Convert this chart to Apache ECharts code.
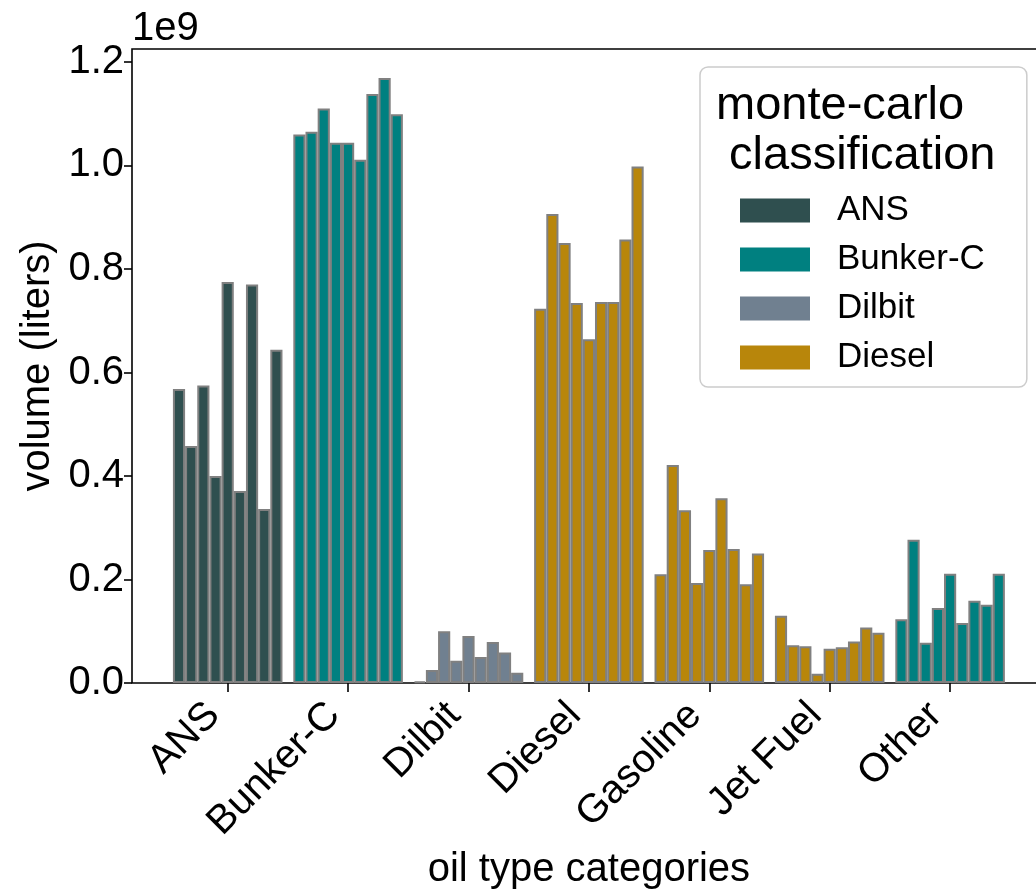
<!DOCTYPE html>
<html>
<head>
<meta charset="utf-8">
<title>Monte-carlo oil volumes</title>
<script src="https://cdn.jsdelivr.net/npm/echarts@6/dist/echarts.min.js"></script>
<style>
  html, body { margin: 0; padding: 0; background: #ffffff; overflow: hidden; }
  #chart { width: 1036px; height: 895px; }
</style>
</head>
<body>
<div id="chart"></div>
<script>
// Oil type categories on the x axis
const categories = ['ANS', 'Bunker-C', 'Dilbit', 'Diesel', 'Gasoline', 'Jet Fuel', 'Other'];

// Monte-carlo classification assigned to each category (drives bar colour)
const classification = ['ANS', 'Bunker-C', 'Dilbit', 'Diesel', 'Diesel', 'Diesel', 'Bunker-C'];

// Legend entries and their colours
const classNames = ['ANS', 'Bunker-C', 'Dilbit', 'Diesel'];
const classColors = ['#2f4f4f', '#008080', '#708090', '#b8860b'];

// Volumes per run (units of 1e9 liters), one array per oil type
const ansVolumes      = [0.568, 0.458, 0.575, 0.400, 0.775, 0.371, 0.770, 0.336, 0.644];
const bunkerCVolumes  = [1.060, 1.065, 1.110, 1.044, 1.044, 1.011, 1.138, 1.169, 1.099];
const dilbitVolumes   = [0.003, 0.025, 0.100, 0.043, 0.091, 0.050, 0.079, 0.059, 0.020];
const dieselVolumes   = [0.723, 0.906, 0.850, 0.734, 0.664, 0.736, 0.736, 0.857, 0.998];
const gasolineVolumes = [0.210, 0.421, 0.334, 0.193, 0.257, 0.357, 0.259, 0.191, 0.250];
const jetFuelVolumes  = [0.130, 0.073, 0.071, 0.018, 0.066, 0.069, 0.080, 0.107, 0.097];
const otherVolumes    = [0.123, 0.277, 0.078, 0.145, 0.211, 0.116, 0.159, 0.151, 0.211];

// Y tick values (units of 1e9 liters)
const yTicks = [0.0, 0.2, 0.4, 0.6, 0.8, 1.0, 1.2];

const SCALE = 1e9;
const Y_MAX = 1.225 * SCALE;
const FONT = 'Liberation Sans, Arial, Helvetica, sans-serif';

const volumesByCategory = [ansVolumes, bunkerCVolumes, dilbitVolumes, dieselVolumes,
                           gasolineVolumes, jetFuelVolumes, otherVolumes];
const runCount = ansVolumes.length;

function colorFor(categoryIndex) {
  return classColors[classNames.indexOf(classification[categoryIndex])];
}

// One bar series per run; bar i of every category group belongs to run i
const runSeries = [];
for (let r = 0; r < runCount; r++) {
  runSeries.push({
    name: 'run ' + (r + 1),
    type: 'bar',
    xAxisIndex: 1,
    yAxisIndex: 1,
    barGap: '0%',
    barCategoryGap: '9%',
    data: volumesByCategory.map(v => v[r] * SCALE),
    itemStyle: {
      color: p => colorFor(p.dataIndex),
      borderColor: '#808080',
      borderWidth: 2
    },
    emphasis: { disabled: true }
  });
}

// Empty series that only carry the legend swatches
const legendSeries = classNames.map((name, i) => ({
  name: name,
  type: 'bar',
  xAxisIndex: 0,
  yAxisIndex: 0,
  data: [],
  itemStyle: { color: classColors[i], borderWidth: 0 }
}));

const tickValues = yTicks.map(t => t * SCALE);

const option = {
  animation: false,
  backgroundColor: '#ffffff',
  textStyle: { fontFamily: FONT },
  title: {
    text: 'monte-carlo\n classification',
    left: 711,
    top: 76,
    textStyle: { fontFamily: FONT, fontSize: 47, fontWeight: 'normal', color: '#000', lineHeight: 50 }
  },
  legend: {
    data: classNames,
    orient: 'vertical',
    left: 700,
    top: 67,
    padding: [126, 42, 12, 40],
    itemWidth: 70,
    itemHeight: 24,
    itemGap: 14,
    icon: 'rect',
    backgroundColor: 'rgba(255,255,255,0.85)',
    borderColor: '#cccccc',
    borderWidth: 1.5,
    borderRadius: 8,
    selectedMode: false,
    textStyle: { fontFamily: FONT, fontSize: 35, color: '#000', padding: [0, 0, 0, 22] }
  },
  grid: [
    // frame: full axes box with the y scale (its right side runs past the canvas edge)
    { left: 132, width: 912, top: 49, bottom: 212, show: true, outerBoundsMode: 'none',
      borderColor: '#000', borderWidth: 1.6, backgroundColor: 'transparent' },
    // bars: category band region
    { left: 167.5, width: 842.8, top: 49, bottom: 212, outerBoundsMode: 'none' }
  ],
  xAxis: [
    { gridIndex: 0, type: 'category', data: [''], show: false },
    {
      gridIndex: 1,
      type: 'category',
      data: categories,
      name: 'oil type categories',
      nameLocation: 'middle',
      nameGap: 155,
      nameTextStyle: { fontFamily: FONT, fontSize: 40, color: '#000' },
      axisLine: { show: false },
      axisTick: { show: true, alignWithLabel: true, length: 9, lineStyle: { color: '#000', width: 1.6 } },
      axisLabel: {
        rotate: 45,
        margin: 12,
        interval: 0,
        fontFamily: FONT,
        fontSize: 40,
        color: '#000',
        padding: [0, 20, 0, 0]
      },
      splitLine: { show: false }
    }
  ],
  yAxis: [
    {
      gridIndex: 0,
      type: 'value',
      min: 0,
      max: Y_MAX,
      interval: 0.2 * SCALE,
      name: 'volume (liters)',
      nameLocation: 'middle',
      nameGap: 72,
      nameTextStyle: { fontFamily: FONT, fontSize: 40, color: '#000' },
      axisLine: { show: false },
      axisTick: { show: true, length: 8, customValues: tickValues, lineStyle: { color: '#000', width: 1.6 } },
      axisLabel: {
        customValues: tickValues,
        margin: 8,
        fontFamily: FONT,
        fontSize: 40,
        color: '#000',
        formatter: v => (v / SCALE).toFixed(1)
      },
      splitLine: { show: false }
    },
    {
      gridIndex: 1,
      type: 'value',
      min: 0,
      max: Y_MAX,
      offset: 35.5,
      name: '1e9',
      nameLocation: 'end',
      nameGap: 0,
      nameTextStyle: { fontFamily: FONT, fontSize: 40, color: '#000', align: 'left', verticalAlign: 'bottom' },
      axisLine: { show: false },
      axisTick: { show: false },
      axisLabel: { show: false },
      splitLine: { show: false }
    }
  ],
  series: runSeries.concat(legendSeries)
};

const chart = echarts.init(document.getElementById('chart'), null, { renderer: 'canvas' });
chart.setOption(option);
</script>
</body>
</html>
